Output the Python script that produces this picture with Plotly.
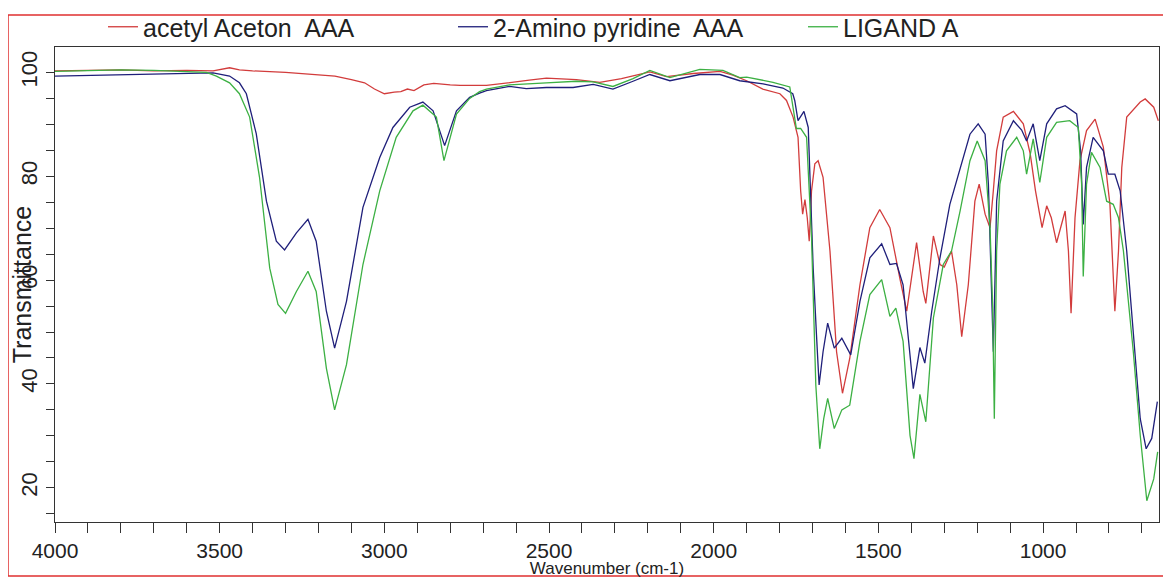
import plotly.graph_objects as go

# ---- data ----
red_wn = [4000, 3900, 3800, 3700, 3600, 3520, 3470, 3440, 3400, 3300, 3200, 3150, 3100, 3060, 3030,
          3000, 2970, 2950, 2930, 2910, 2880, 2850, 2800, 2770, 2690, 2620, 2560, 2508, 2417, 2346,
          2280, 2194, 2143, 2062, 1981, 1942, 1900, 1851, 1799, 1779, 1759, 1744, 1736, 1730, 1723,
          1716, 1710, 1703, 1693, 1683, 1668, 1647, 1627, 1609, 1587, 1556, 1526, 1496, 1465, 1435,
          1414, 1384, 1364, 1356, 1333, 1313, 1300, 1278, 1262, 1247, 1227, 1207, 1194, 1176, 1161,
          1151, 1141, 1121, 1090, 1060, 1039, 1023, 1003, 989, 975, 959, 933, 923, 915, 903, 888,
          868, 842, 817, 797, 782, 771, 761, 746, 705, 690, 664, 650]
red_t = [100.3, 100.4, 100.5, 100.3, 100.4, 100.3, 100.9, 100.5, 100.3, 100.0, 99.5, 99.3, 98.6, 98.0, 96.8,
         95.9, 96.2, 96.3, 96.8, 96.5, 97.6, 97.9, 97.6, 97.5, 97.5, 98.1, 98.5, 98.9, 98.6, 98.1,
         98.8, 100.1, 99.2, 99.8, 100.2, 99.5, 98.4, 96.8, 95.9, 94.6, 91.4, 87.5, 77.2, 72.7, 75.5,
         72.0, 67.5, 77.2, 82.4, 83.0, 79.8, 65.6, 46.2, 38.2, 44.9, 59.1, 70.1, 73.6, 70.1, 60.4,
         54.0, 67.2, 57.8, 55.5, 68.5, 63.0, 62.5, 65.6, 59.1, 49.1, 59.1, 75.2, 78.5, 72.7, 70.1,
         77.2, 84.9, 91.4, 92.5, 90.1, 84.3, 77.2, 70.1, 74.3, 72.0, 67.2, 73.3, 65.6, 53.6, 72.0, 83.0,
         88.8, 91.0, 85.6, 74.6, 54.0, 65.6, 81.7, 91.4, 94.3, 94.9, 93.3, 90.7]

blue_wn = [4000, 3900, 3800, 3700, 3600, 3520, 3470, 3440, 3419, 3389, 3358, 3328, 3303, 3267, 3232,
           3207, 3176, 3151, 3115, 3065, 3014, 2974, 2923, 2883, 2852, 2817, 2781, 2741, 2711, 2690,
           2620, 2569, 2508, 2427, 2366, 2306, 2245, 2194, 2133, 2042, 1981, 1921, 1850, 1790, 1760,
           1754, 1744, 1736, 1726, 1713, 1703, 1698, 1688, 1680, 1668, 1654, 1634, 1611, 1584, 1556,
           1526, 1490, 1465, 1445, 1425, 1394, 1374, 1359, 1338, 1313, 1283, 1252, 1222, 1197, 1176,
           1166, 1156, 1151, 1146, 1141, 1121, 1090, 1065, 1050, 1030, 1010, 989, 959, 933, 898, 886,
           878, 868, 848, 817, 802, 782, 766, 746, 726, 705, 687, 670, 653]
blue_t = [99.3, 99.4, 99.6, 99.6, 99.8, 99.9, 99.3, 98.0, 95.9, 88.2, 75.2, 67.5, 65.8, 69.1, 71.7,
          67.5, 54.0, 46.9, 55.9, 74.0, 83.6, 89.4, 93.3, 94.3, 92.6, 85.9, 92.6, 95.2, 96.0, 96.5,
          97.3, 96.9, 97.1, 97.1, 97.7, 96.8, 98.3, 99.6, 98.4, 99.6, 99.6, 98.4, 97.8, 97.0, 95.9,
          94.6, 90.7, 91.6, 92.5, 89.4, 72.0, 62.3, 49.5, 39.8, 46.2, 51.7, 46.9, 48.8, 45.6, 55.9,
          64.3, 67.0, 63.0, 63.2, 59.1, 39.1, 47.0, 44.0, 54.0, 64.3, 74.6, 81.7, 88.1, 90.1, 88.1,
          78.5, 59.1, 46.2, 60.0, 75.2, 86.8, 90.7, 88.9, 86.8, 90.1, 83.0, 90.1, 93.0, 93.6, 92.0, 84.9,
          70.7, 81.7, 87.5, 84.9, 80.4, 80.4, 77.2, 65.6, 49.5, 33.3, 27.5, 29.5, 36.6]

green_wn = [4000, 3900, 3800, 3700, 3600, 3540, 3510, 3470, 3440, 3409, 3379, 3348, 3323, 3300, 3267,
            3232, 3207, 3176, 3151, 3115, 3065, 3014, 2964, 2913, 2883, 2842, 2819, 2781, 2741, 2711,
            2690, 2620, 2508, 2417, 2366, 2306, 2245, 2194, 2133, 2042, 1972, 1921, 1900, 1820, 1769,
            1754, 1749, 1736, 1718, 1703, 1690, 1678, 1666, 1654, 1634, 1611, 1587, 1556, 1526, 1490,
            1465, 1447, 1425, 1404, 1392, 1374, 1356, 1333, 1303, 1278, 1252, 1222, 1200, 1176, 1161,
            1153, 1148, 1141, 1131, 1111, 1080, 1060, 1050, 1030, 1010, 989, 959, 919, 893, 883, 878,
            868, 853, 827, 807, 787, 771, 756, 726, 705, 685, 664, 652]
green_t = [100.2, 100.3, 100.5, 100.4, 100.2, 100.0, 99.3, 98.0, 95.9, 91.4, 79.8, 62.3, 55.3, 53.6, 57.8,
           61.7, 57.8, 43.0, 35.0, 43.7, 63.0, 77.2, 87.5, 92.6, 93.7, 91.4, 83.0, 92.0, 95.0, 96.3,
           96.8, 97.6, 98.0, 98.3, 98.2, 97.3, 98.8, 100.4, 99.0, 100.6, 100.4, 99.0, 99.1, 98.1, 97.2,
           91.4, 89.2, 89.2, 87.5, 68.2, 39.8, 27.5, 33.3, 37.2, 31.4, 35.0, 35.9, 48.2, 57.2, 60.1,
           53.0, 54.6, 48.2, 30.1, 25.6, 38.0, 32.7, 52.7, 63.0, 65.6, 73.3, 83.0, 86.8, 83.0, 70.1,
           54.5, 33.3, 65.6, 78.5, 84.9, 87.5, 84.9, 80.4, 87.2, 78.8, 87.5, 90.4, 90.7, 89.4, 78.5, 60.7,
           78.5, 84.6, 81.7, 75.2, 74.6, 72.0, 65.6, 46.2, 30.1, 17.5, 21.7, 26.9]

series_names = ["acetyl Aceton  AAA", "2-Amino pyridine  AAA", "LIGAND A"]
series_colors = ["#d23c3c", "#1f1f7a", "#3cb043"]

x_ticks = [4000, 3500, 3000, 2500, 2000, 1500, 1000]
y_ticks = [20, 40, 60, 80, 100]

FONT = "Liberation Sans, Arial, sans-serif"

fig = go.Figure()
for wn, t, name, col in zip([red_wn, blue_wn, green_wn], [red_t, blue_t, green_t],
                            series_names, series_colors):
    fig.add_trace(go.Scatter(x=wn, y=t, mode="lines", name=name,
                             line=dict(color=col, width=1.3)))

# the page body adds an 8 px offset; positions below are in page pixels
OFF = 8
W, H = 1171 - OFF, 578 - OFF
ml, mr, mt, mb = 55 - OFF, 12, 47 - OFF, 56
pw, ph = W - ml - mr, H - mt - mb

def px_to_paper_x(px):
    return (px - OFF - ml) / pw

def py_to_paper_y(py):
    return (H - mb - (py - OFF)) / ph

fig.update_layout(
    width=W, height=H,
    margin=dict(l=ml, r=mr, t=mt, b=mb, autoexpand=False),
    paper_bgcolor="white", plot_bgcolor="white",
    font=dict(family=FONT, color="#222222"),
    showlegend=True,
    legend=dict(orientation="h", x=px_to_paper_x(103), xanchor="left",
                y=py_to_paper_y(27), yanchor="middle",
                entrywidth=305, entrywidthmode="pixels",
                font=dict(size=25, family=FONT, color="#222222"),
                bgcolor="rgba(0,0,0,0)", itemclick=False),
    xaxis=dict(range=[4000, 648], tickvals=x_ticks, ticks="outside", ticklen=10,
               tickwidth=1, tickcolor="#333333",
               minor=dict(dtick=100, tick0=0, ticks="outside", ticklen=10, tickcolor="#333333"),
               showline=True, linecolor="#333333", linewidth=1, mirror=True,
               showgrid=False, zeroline=False,
               tickfont=dict(size=21, family=FONT, color="#222222"),
               ticklabelstandoff=0,
               title=dict(text="Wavenumber (cm-1)", font=dict(size=17, family=FONT, color="#222222"),
                          standoff=7)),
    yaxis=dict(range=[13.4, 104.9], tickvals=y_ticks, ticks="outside", ticklen=8,
               tickwidth=1, tickcolor="#333333",
               minor=dict(dtick=5, tick0=0, ticks="outside", ticklen=8, tickcolor="#333333"),
               showline=True, linecolor="#333333", linewidth=1, mirror=True,
               showgrid=False, zeroline=False, tickangle=-90,
               tickfont=dict(size=22, family=FONT, color="#222222"),
               title=dict(text="Transmittance", font=dict(size=25, family=FONT, color="#222222"),
                          standoff=0)),
)

# red outer frame of the original picture
fig.add_shape(type="rect", xref="paper", yref="paper",
              x0=px_to_paper_x(8), x1=px_to_paper_x(1168),
              y0=py_to_paper_y(576), y1=py_to_paper_y(15),
              line=dict(color="#e03030", width=1.5), fillcolor="rgba(0,0,0,0)", layer="above")

fig.write_html("out.html")
